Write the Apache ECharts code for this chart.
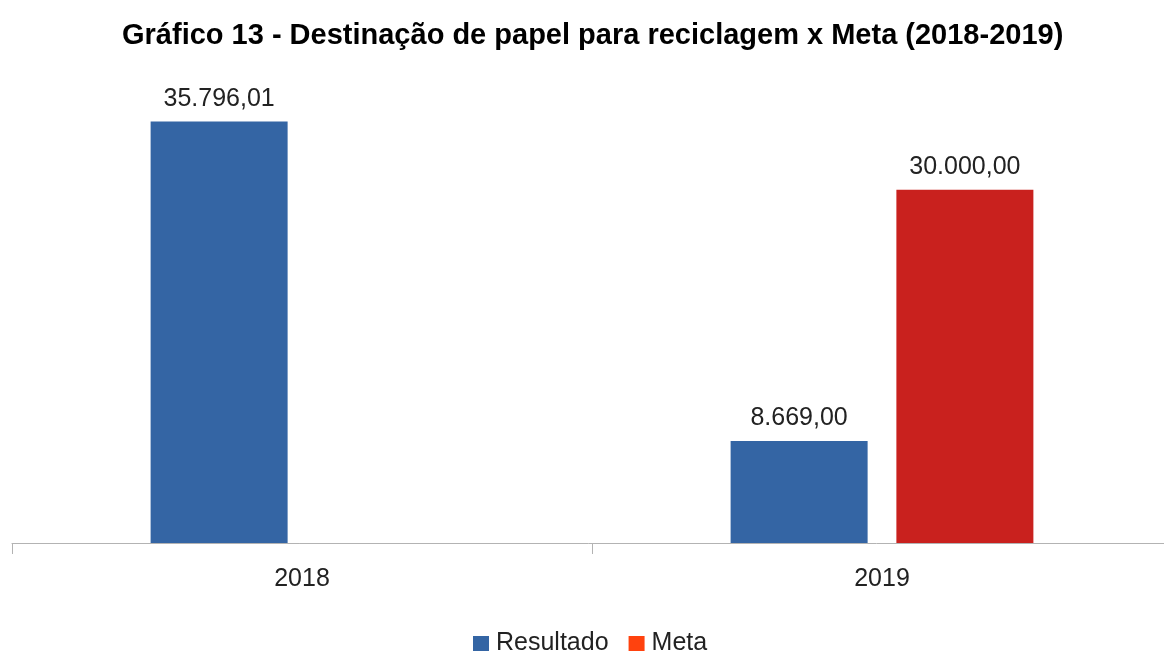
<!DOCTYPE html>
<html>
<head>
<meta charset="utf-8">
<script src="https://cdn.jsdelivr.net/npm/echarts@6/dist/echarts.min.js"></script>
<style>
    html, body { margin: 0; padding: 0; background: #fff; }
    #main { width: 1164px; height: 651px; }
</style>
</head>
<body>
<div id="main"></div>
<script type="text/javascript">
    var anos = ['2018', '2019'];
    var resultado = [35796.01, 8669.00];
    var meta = [null, 30000.00];

    // formato brasileiro: 35.796,01
    function fmtBR(v) {
        var s = Number(v).toFixed(2).split('.');
        var inteiro = s[0].replace(/\B(?=(\d{3})+(?!\d))/g, '.');
        return inteiro + ',' + s[1];
    }

    var myChart = echarts.init(document.getElementById('main'));
    var labelCfg = {
        show: true,
        position: 'top',
        distance: 10,
        fontFamily: 'Liberation Sans',
        fontSize: 25,
        color: '#222',
        formatter: function (p) { return fmtBR(p.value); }
    };
    var option = {
        animation: false,
        title: {
            text: 'Gráfico 13 - Destinação de papel para reciclagem x Meta (2018-2019)',
            left: 117,
            top: 16,
            textStyle: {
                fontFamily: 'Liberation Sans',
                fontSize: 29,
                fontWeight: 'bold',
                color: '#000'
            }
        },
        legend: {
            top: 626,
            left: 468,
            icon: 'rect',
            itemWidth: 16,
            itemHeight: 15,
            itemGap: 20,
            textStyle: {
                fontFamily: 'Liberation Sans',
                fontSize: 25,
                color: '#222',
                padding: [0, 0, 0, 2]
            },
            data: [
                { name: 'Resultado', itemStyle: { color: '#3465a4' } },
                { name: 'Meta', itemStyle: { color: '#ff420e' } }
            ]
        },
        grid: {
            left: 12,
            width: 1160,
            top: 72,
            bottom: 108,
            outerBoundsMode: 'none'
        },
        xAxis: [{
            type: 'category',
            data: anos,
            axisLine: { lineStyle: { color: '#b3b3b3', width: 1 } },
            axisTick: { show: true, length: 11, lineStyle: { color: '#b3b3b3' } },
            axisLabel: {
                margin: 24,
                fontFamily: 'Liberation Sans',
                fontSize: 25,
                color: '#222'
            }
        }],
        yAxis: [{
            type: 'value',
            min: 0,
            max: 40000,
            show: false,
            splitLine: { show: false }
        }],
        series: [{
            name: 'Resultado',
            type: 'bar',
            data: resultado,
            barWidth: 137,
            barGap: '21%',
            itemStyle: { color: '#3465a4' },
            label: labelCfg
        }, {
            name: 'Meta',
            type: 'bar',
            data: meta,
            barWidth: 137,
            itemStyle: { color: '#c9211e' },
            label: labelCfg
        }]
    };
    myChart.setOption(option);
</script>
</body>
</html>
